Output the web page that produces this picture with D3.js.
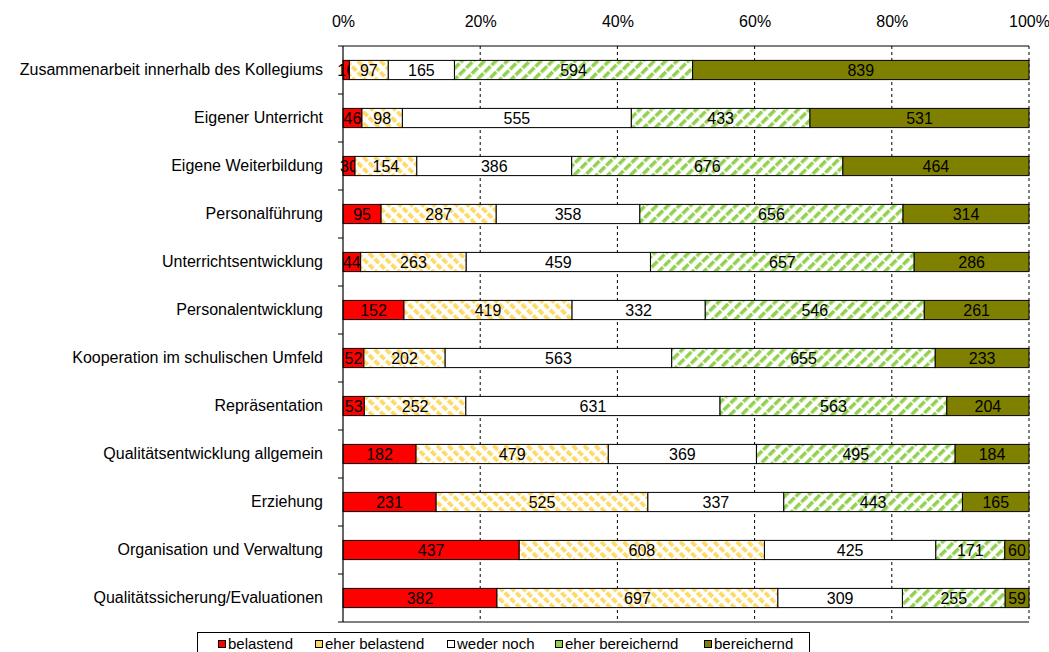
<!DOCTYPE html>
<html><head><meta charset="utf-8">
<script src="https://cdn.jsdelivr.net/npm/d3@7"></script>
<style>
body{margin:0;background:#fff;}
svg{font-family:"Liberation Sans",Arial,sans-serif;}
</style></head><body>
<svg id="c" width="1049" height="652"></svg>
<script>
const categories = ["Zusammenarbeit innerhalb des Kollegiums","Eigener Unterricht","Eigene Weiterbildung","Personalführung","Unterrichtsentwicklung","Personalentwicklung","Kooperation im schulischen Umfeld","Repräsentation","Qualitätsentwicklung allgemein","Erziehung","Organisation und Verwaltung","Qualitätssicherung/Evaluationen"];
const seriesNames = ["belastend","eher belastend","weder noch","eher bereichernd","bereichernd"];
const belastend = [16,46,30,95,44,152,52,53,182,231,437,382];
const eherBelastend = [97,98,154,287,263,419,202,252,479,525,608,697];
const wederNoch = [165,555,386,358,459,332,563,631,369,337,425,309];
const eherBereichernd = [594,433,676,656,657,546,655,563,495,443,171,255];
const bereichernd = [839,531,464,314,286,261,233,204,184,165,60,59];
const tickValues = [0,0.2,0.4,0.6,0.8,1.0];
const tickLabels = ["0%","20%","40%","60%","80%","100%"];

const series = [belastend,eherBelastend,wederNoch,eherBereichernd,bereichernd];
const fills = ["#FF0000","url(#pYellow)","#FFFFFF","url(#pGreen)","#808000"];

const svg = d3.select("#c");
const defs = svg.append("defs");
// yellow dashed downward diagonal
const py = defs.append("pattern").attr("id","pYellow").attr("patternUnits","userSpaceOnUse")
  .attr("width",8).attr("height",8).attr("patternTransform","rotate(-45)");
py.append("rect").attr("width",8).attr("height",8).attr("fill","#fff");
py.append("rect").attr("x",0).attr("y",0).attr("width",3.8).attr("height",6).attr("fill","#FFD966");
// green upward diagonal
const pg = defs.append("pattern").attr("id","pGreen").attr("patternUnits","userSpaceOnUse")
  .attr("width",8).attr("height",10).attr("patternTransform","rotate(45)");
pg.append("rect").attr("width",8).attr("height",10).attr("fill","#fff");
pg.append("rect").attr("x",0).attr("y",0).attr("width",3.5).attr("height",8.5).attr("fill","#92D050");

const L = 343, R = 1029, T = 46, B = 622;
const x = d3.scaleLinear().domain([0,1]).range([L,R]);
const y = d3.scaleBand().domain(categories).range([T,B]).paddingInner(0.6).paddingOuter(0.3);

// gridlines
svg.append("g").selectAll("line").data(tickValues.slice(1)).join("line")
  .attr("x1",d=>x(d)).attr("x2",d=>x(d)).attr("y1",T).attr("y2",B)
  .attr("stroke","#000").attr("stroke-width",1).attr("stroke-dasharray","3,3");
// top and bottom borders
svg.append("line").attr("x1",L).attr("x2",R).attr("y1",T).attr("y2",T).attr("stroke","#000");
svg.append("line").attr("x1",L).attr("x2",R).attr("y1",B).attr("y2",B).attr("stroke","#000");

// top axis labels
const xAxis = d3.axisTop(x).tickValues(tickValues).tickFormat((d,i)=>tickLabels[i]).tickSize(0).tickPadding(0);
const gx = svg.append("g").attr("transform",`translate(0,${T-19})`).call(xAxis);
gx.select(".domain").remove();
gx.selectAll("text").attr("font-size",16).attr("fill","#000").attr("font-family","Liberation Sans, Arial, sans-serif");

// bars
categories.forEach((cat,i)=>{
  const total = d3.sum(series,s=>s[i]);
  let cum = 0;
  series.forEach((s,j)=>{
    const v = s[i];
    const x0 = x(cum/total), x1 = x((cum+v)/total);
    cum += v;
    svg.append("rect").attr("x",x0).attr("y",y(cat)).attr("width",x1-x0).attr("height",y.bandwidth())
      .attr("fill",fills[j]).attr("stroke","#000").attr("stroke-width",1);
    svg.append("text").attr("x",(x0+x1)/2).attr("y",y(cat)+y.bandwidth()/2).attr("dy","0.36em")
      .attr("text-anchor","middle").attr("font-size",16).attr("fill","#000").text(v);
  });
});

// left axis
const yAxis = d3.axisLeft(y).tickSize(0).tickPadding(20);
const gy = svg.append("g").attr("transform",`translate(${L},0)`).call(yAxis);
gy.select(".domain").remove();
gy.selectAll("text").attr("font-size",16).attr("fill","#000").attr("font-family","Liberation Sans, Arial, sans-serif");
svg.append("line").attr("x1",L).attr("x2",L).attr("y1",T).attr("y2",B).attr("stroke","#000").attr("stroke-width",1.2);
const step = y.step();
svg.append("g").selectAll("line").data(d3.range(categories.length+1)).join("line")
  .attr("x1",L-5).attr("x2",L).attr("y1",k=>T+k*step).attr("y2",k=>T+k*step).attr("stroke","#000");

// legend
const lg = svg.append("g");
lg.append("rect").attr("x",197.5).attr("y",632.5).attr("width",612).attr("height",30).attr("fill","#fff").attr("stroke","#000");
const legX = [218,315,447,555,704];
seriesNames.forEach((n,j)=>{
  lg.append("rect").attr("x",legX[j]+0.5).attr("y",640.5).attr("width",7).attr("height",7)
    .attr("fill",fills[j]==="url(#pYellow)"?"#FFD966":fills[j]==="url(#pGreen)"?"#92D050":fills[j]).attr("stroke","#000");
  lg.append("text").attr("x",legX[j]+10).attr("y",649).attr("font-size",15).attr("fill","#000").text(n);
});
</script></body></html>
